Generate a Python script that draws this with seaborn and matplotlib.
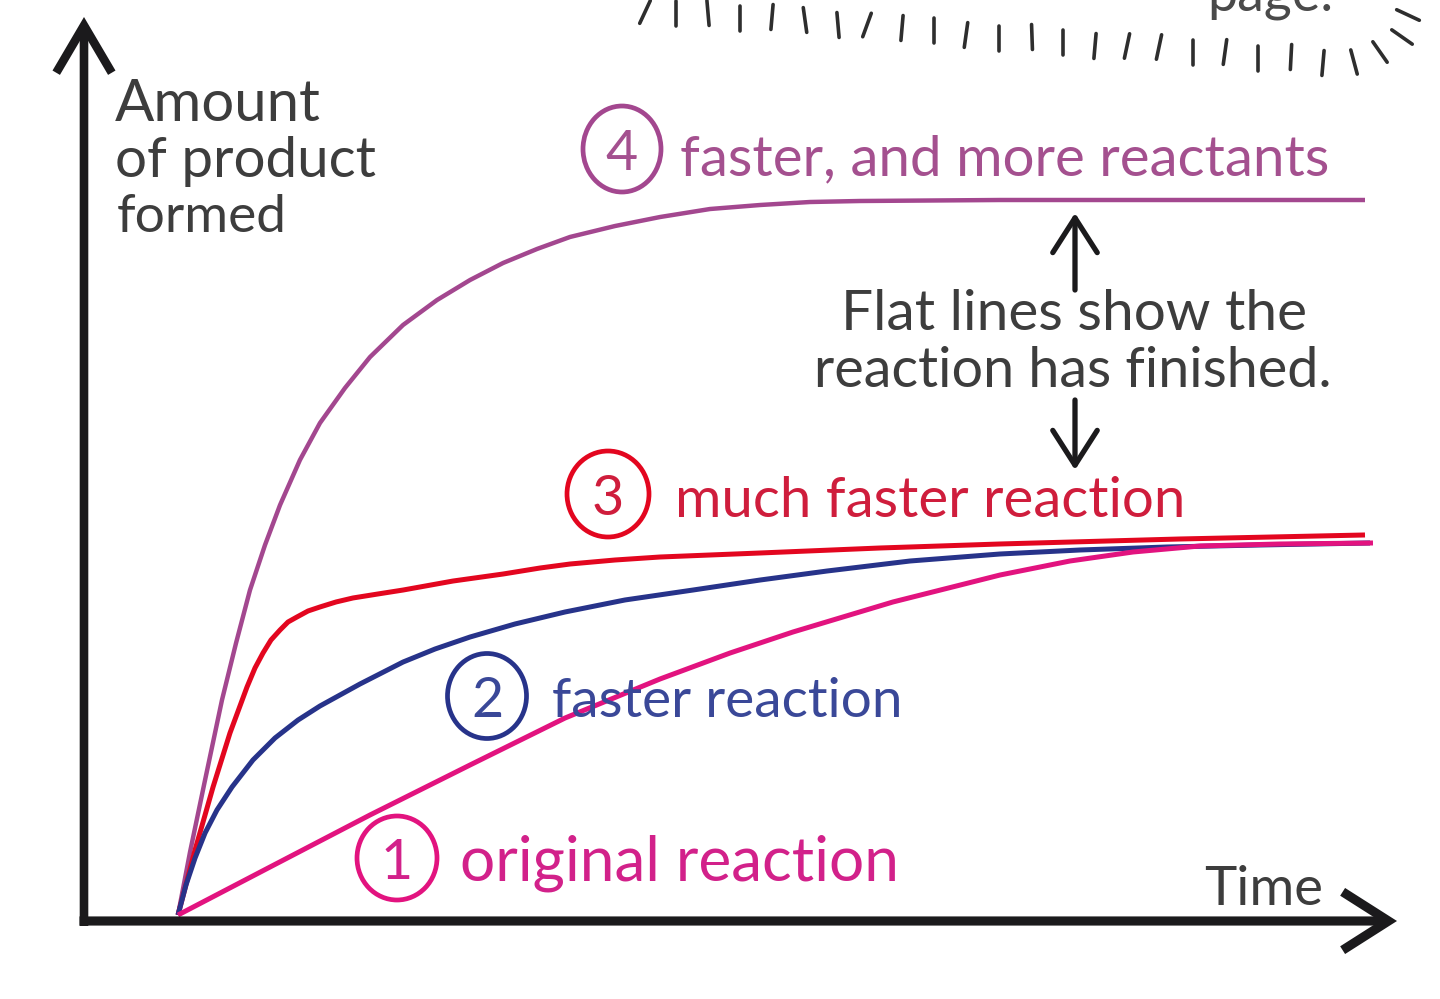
import numpy as np
import pandas as pd
import matplotlib
matplotlib.use("Agg")
import matplotlib.pyplot as plt
import seaborn as sns
from matplotlib.patches import Ellipse

sns.set_theme(style="white")
plt.rcParams['font.family'] = ['Lato', 'DejaVu Sans']

# ---------------- data ----------------
# time in arbitrary units (0..10), amount of product (plateau of curve 4 = 100)
time_4 = [0.000, 0.101, 0.227, 0.369, 0.487, 0.604, 0.730, 0.856, 1.023, 1.191, 1.401,
          1.611, 1.888, 2.173, 2.450, 2.727, 3.012, 3.289, 3.666, 4.044, 4.463, 4.883,
          5.302, 5.721, 6.896, 9.958]
amount_4 = [0.00, 8.81, 18.88, 30.07, 38.04, 45.45, 51.75, 57.34, 63.64, 68.81, 73.71,
            78.04, 82.52, 86.01, 88.81, 91.19, 93.15, 94.83, 96.36, 97.62, 98.74, 99.30,
            99.72, 99.86, 100.0, 100.0]

time_3 = [0.000, 0.143, 0.294, 0.436, 0.579, 0.646, 0.713, 0.780, 0.856, 0.923, 0.998,
          1.091, 1.191, 1.326, 1.468, 1.678, 1.888, 2.307, 2.727, 3.037, 3.289, 3.666,
          4.044, 4.883, 5.889, 6.896, 8.406, 9.958]
amount_3 = [0.00, 9.09, 17.90, 25.45, 31.89, 34.55, 36.64, 38.46, 39.86, 40.98, 41.68,
            42.52, 43.08, 43.78, 44.34, 44.90, 45.45, 46.71, 47.69, 48.53, 49.09, 49.65,
            50.07, 50.63, 51.33, 51.89, 52.59, 53.15]

time_2 = [0.000, 0.067, 0.143, 0.227, 0.327, 0.453, 0.629, 0.814, 1.007, 1.191, 1.527,
          1.888, 2.156, 2.450, 2.827, 3.247, 3.750, 4.320, 4.883, 5.445, 6.141, 6.896,
          7.567, 8.297, 9.077, 10.000]
amount_2 = [0.00, 4.20, 7.97, 11.47, 14.69, 17.90, 21.68, 24.76, 27.27, 29.23, 32.31,
            35.38, 37.20, 38.88, 40.70, 42.38, 44.06, 45.45, 46.85, 48.11, 49.51, 50.49,
            51.05, 51.47, 51.75, 52.03]

time_1 = [0.000, 0.772, 1.611, 2.450, 3.247, 4.044, 4.631, 5.159, 5.998, 6.896, 7.483,
          8.012, 8.574, 9.245, 10.025]
amount_1 = [0.00, 6.71, 13.99, 20.98, 27.55, 33.01, 36.64, 39.58, 43.78, 47.55, 49.51,
            50.77, 51.61, 51.89, 52.03]

labels = ["original reaction", "faster reaction", "much faster reaction",
          "faster, and more reactants"]
numbers = ["1", "2", "3", "4"]
axis_y_label = ["Amount", "of product", "formed"]
axis_x_label = "Time"
note_lines = ["Flat lines show the", "reaction has finished."]

# ---------------- styling ----------------
line_colors = {"1": "#e2137f", "2": "#27338a", "3": "#e3061f", "4": "#a3478f"}
text_colors = {"1": "#d2218a", "2": "#3a4898", "3": "#cf1d3c", "4": "#a4508f"}
INK = "#1b1a1c"
GREY = "#3d3d3d"

W, H = 1440, 999
fig = plt.figure(figsize=(14.4, 9.99), dpi=100)
fig.patch.set_facecolor("white")
ax = fig.add_axes([0, 0, 1, 1])

# pixel -> data helpers (layout only)
X0, PXT = 178.0, 119.2
Y0, PXA = 915.0, 7.15
def T(px):
    return (px - X0) / PXT
def A(py):
    return (Y0 - py) / PXA

ax.set_xlim(T(0), T(W))
ax.set_ylim(A(H), A(0))
ax.axis("off")

# ---------------- curves ----------------
curves = [("4", time_4, amount_4, 3.2), ("3", time_3, amount_3, 3.6),
          ("2", time_2, amount_2, 3.6), ("1", time_1, amount_1, 3.6)]
for key, t, a, lw in curves:
    df = pd.DataFrame({"time": t, "amount": a})
    sns.lineplot(data=df, x="time", y="amount", ax=ax, color=line_colors[key],
                 linewidth=lw, estimator=None, sort=False)
    ax.lines[-1].set_solid_capstyle("butt")
    ax.lines[-1].set_solid_joinstyle("round")
ax.set_xlabel("")
ax.set_ylabel("")

# ---------------- axes arrows ----------------
ax.annotate("", xy=(T(84), A(17)), xytext=(T(84), A(926)),
            arrowprops=dict(arrowstyle="->,head_length=3.4,head_width=2.0",
                            lw=6.2, color=INK, shrinkA=0, shrinkB=0,
                            mutation_scale=10, capstyle="butt", joinstyle="miter"))
ax.annotate("", xy=(T(1397), A(921)), xytext=(T(79.5), A(921)),
            arrowprops=dict(arrowstyle="->,head_length=3.3,head_width=2.1",
                            lw=6.6, color=INK, shrinkA=0, shrinkB=0,
                            mutation_scale=10, capstyle="butt", joinstyle="miter"))

# small arrows
ax.annotate("", xy=(T(1075), A(213)), xytext=(T(1075), A(290)),
            arrowprops=dict(arrowstyle="->,head_length=2.5,head_width=1.6",
                            lw=3.8, color=INK, shrinkA=0, shrinkB=0, mutation_scale=10))
ax.annotate("", xy=(T(1075), A(470)), xytext=(T(1075), A(400)),
            arrowprops=dict(arrowstyle="->,head_length=2.5,head_width=1.6",
                            lw=3.8, color=INK, shrinkA=0, shrinkB=0, mutation_scale=10))

# ---------------- texts ----------------
fits = []
def add_text(px, py, s, color, width, fs=38, **kw):
    t = ax.text(T(px), A(py), s, ha="left", va="baseline", color=color,
                fontsize=fs, fontweight="normal", **kw)
    if width:
        fits.append((t, width))
    return t

# y label
add_text(115, 121, axis_y_label[0], GREY, 206)
add_text(115, 177, axis_y_label[1], GREY, 261)
add_text(117, 232, axis_y_label[2], GREY, 170)
# x label
add_text(1204, 905, axis_x_label, GREY, 119)

# numbered labels: circle center, circle size, text start, baseline, width
label_layout = {
    "4": ((622, 149), (78, 86), 680, 175, 650),
    "3": ((608, 494), (82, 86), 675, 517, 510),
    "2": ((487, 696), (79, 85), 552, 717, 351),
    "1": ((397, 858), (80, 84), 460, 880, 440),
}
for key, ((cx, cy), (cw, ch), tx, base, tw) in label_layout.items():
    idx = int(key) - 1
    ell = Ellipse((T(cx), A(cy)), cw / PXT, ch / PXA, fill=False,
                  edgecolor=line_colors[key], lw=3.4)
    ax.add_patch(ell)
    ax.text(T(cx), A(cy + 21), numbers[idx], ha="center", va="baseline",
            color=text_colors[key], fontsize=40, fontweight="normal")
    add_text(tx, base, labels[idx], text_colors[key], tw)

# note text
add_text(841, 330, note_lines[0], GREY, 466)
add_text(814, 387, note_lines[1], GREY, 518)

# partial text at top edge
add_text(1207, 11, "page.", "#4a4a4a", 126)

# ---------------- decorative dashes at the top ----------------
dash_x = [645, 676, 708, 740, 772, 805, 838, 867, 902, 934, 966, 999, 1032, 1063,
          1095, 1127, 1159, 1193, 1225, 1258, 1291, 1323, 1354, 1380, 1402, 1408]
dash_y = [12, 13, 13, 18, 17, 20, 25, 25, 28, 30, 35, 38, 37, 42,
          46, 46, 47, 52, 52, 58, 57, 63, 62, 52, 37, 15]
dash_tilt = [25, 0, -5, 0, 5, -8, -5, 20, 5, 0, 8, 0, -2, 0,
             5, 12, 12, 0, 8, 0, 3, 5, -15, -35, -55, -65]
L = 25
for x, y, tilt in zip(dash_x, dash_y, dash_tilt):
    r = np.deg2rad(tilt)
    dx, dy = np.sin(r) * L / 2, np.cos(r) * L / 2
    ax.plot([T(x - dx), T(x + dx)], [A(y + dy), A(y - dy)], color="#2e2e2e",
            lw=2.6, solid_capstyle="round")

# ---------------- fit text widths ----------------
fig.canvas.draw()
rend = fig.canvas.get_renderer()
for t, w in fits:
    bb = t.get_window_extent(rend)
    if bb.width > 0:
        t.set_fontsize(t.get_fontsize() * w / bb.width)

fig.savefig("out.png", dpi=100, facecolor="white")
